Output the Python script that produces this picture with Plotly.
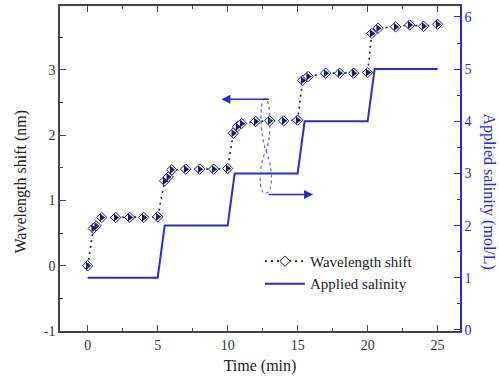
import plotly.graph_objects as go

# ---- data ----
time_shift = [0, 0.4, 0.6, 1, 2, 3, 4, 5,
              5.5, 5.75, 6, 7, 8, 9, 10,
              10.4, 10.7, 11, 12, 13, 14, 15,
              15.35, 15.75, 17, 18, 19, 20,
              20.3, 20.75, 22, 23, 24, 25]
wavelength_shift = [0.0, 0.57, 0.61, 0.74, 0.74, 0.74, 0.74, 0.75,
                    1.30, 1.36, 1.47, 1.48, 1.48, 1.48, 1.49,
                    2.03, 2.13, 2.18, 2.21, 2.22, 2.22, 2.23,
                    2.84, 2.90, 2.95, 2.95, 2.95, 2.96,
                    3.56, 3.64, 3.66, 3.69, 3.67, 3.70]

time_sal = [0, 5, 5.5, 10, 10.5, 15, 15.5, 20, 20.5, 25]
salinity = [1, 1, 2, 2, 3, 3, 4, 4, 5, 5]

x_ticks = [0, 5, 10, 15, 20, 25]
y_left_ticks = [-1, 0, 1, 2, 3]
y_left_labels = ["-1", "0", "1", "2", "3"]
y_right_ticks = [0, 1, 2, 3, 4, 5, 6]

NAVY = "#1a1a70"
BLUE = "#2a2ad8"
AX = "#444444"
FONT = "Liberation Serif"

fig = go.Figure()
fig.add_trace(go.Scatter(
    x=time_shift, y=wavelength_shift, name="Wavelength shift",
    mode="lines+markers", legendgroup="ws",
    line=dict(color=NAVY, width=1.6, dash="2px,4px"),
    marker=dict(symbol="diamond", size=8, color="#ffffff",
                line=dict(color=NAVY, width=1)),
    yaxis="y"))
# filled right half of the half-filled diamond markers
fig.add_trace(go.Scatter(
    x=time_shift, y=wavelength_shift, name="Wavelength shift",
    mode="markers", legendgroup="ws", showlegend=False,
    marker=dict(symbol="triangle-right", size=7, color=NAVY,
                line=dict(width=0)),
    yaxis="y"))
fig.add_trace(go.Scatter(
    x=time_sal, y=salinity, name="Applied salinity",
    mode="lines", line=dict(color=BLUE, width=2), yaxis="y2"))

# twisted dotted loop indicating axis association
fig.add_shape(type="path", xref="x", yref="y",
              path="M 12.67,2.56 C 12.25,2.56 12.3,2.0 12.74,1.76 "
                   "C 13.25,1.5 13.3,1.1 12.65,1.11 "
                   "C 12.15,1.12 12.25,1.58 12.74,1.76 "
                   "C 13.15,1.95 13.1,2.56 12.67,2.56 Z",
              line=dict(color="#6a6a9a", width=1.2, dash="dot"))

# arrows
fig.add_annotation(x=9.55, y=2.55, xref="x", yref="y", ax=49, ay=0,
                   showarrow=True, arrowhead=2, arrowsize=1.2, arrowwidth=1.5,
                   arrowcolor=BLUE, text="")
fig.add_annotation(x=16.1, y=1.09, xref="x", yref="y", ax=-46, ay=0,
                   showarrow=True, arrowhead=2, arrowsize=1.2, arrowwidth=1.5,
                   arrowcolor=BLUE, text="")

# axis titles
fig.add_annotation(text="Wavelength shift (nm)", xref="paper", yref="paper",
                   x=-0.1, y=0.46, xanchor="center", yanchor="middle",
                   textangle=-90, showarrow=False,
                   font=dict(family=FONT, size=16, color="#222"))
fig.add_annotation(text="Applied salinity (mol/L)", xref="paper", yref="paper",
                   x=1.072, y=0.43, xanchor="center", yanchor="middle",
                   textangle=90, showarrow=False,
                   font=dict(family=FONT, size=16, color=BLUE))

fig.update_layout(
    width=499, height=383,
    margin=dict(l=60, r=39, t=4, b=52),
    paper_bgcolor="white", plot_bgcolor="white",
    font=dict(family=FONT, size=14, color="#333"),
    showlegend=True,
    legend=dict(x=0.5, y=0.265, xanchor="left", yanchor="top",
                bgcolor="rgba(0,0,0,0)", font=dict(family=FONT, size=15, color="#222"),
                tracegroupgap=0, itemwidth=40),
    xaxis=dict(range=[-1.98, 26.6], tickvals=x_ticks, ticks="inside", ticklen=6,
               tickwidth=1.2, tickcolor=AX,
               minor=dict(tickvals=[2.5, 7.5, 12.5, 17.5, 22.5], ticks="inside",
                          ticklen=3, tickcolor=AX),
               showline=True, linecolor=AX, linewidth=1.5, mirror="ticks",
               showgrid=False, zeroline=False,
               title=dict(text="Time (min)", font=dict(size=16, color="#222"), standoff=8)),
    yaxis=dict(range=[-1, 3.98], tickvals=y_left_ticks, ticktext=y_left_labels,
               ticks="inside", ticklen=6,
               tickwidth=1.2, tickcolor=AX,
               minor=dict(tickvals=[-0.5, 0.5, 1.5, 2.5, 3.5], ticks="inside",
                          ticklen=3, tickcolor=AX),
               showline=True, linecolor=AX, linewidth=1.5,
               showgrid=False, zeroline=False),
    yaxis2=dict(range=[-0.02, 6.21], tickvals=y_right_ticks, overlaying="y",
                side="right", ticks="inside", ticklen=6, tickwidth=1.2,
                tickcolor=BLUE,
                minor=dict(tickvals=[0.5, 1.5, 2.5, 3.5, 4.5, 5.5], ticks="inside",
                           ticklen=3, tickcolor=BLUE),
                showline=True, linecolor=BLUE, linewidth=1.5,
                tickfont=dict(color=BLUE), showgrid=False, zeroline=False),
)

fig.write_html("out.html")
